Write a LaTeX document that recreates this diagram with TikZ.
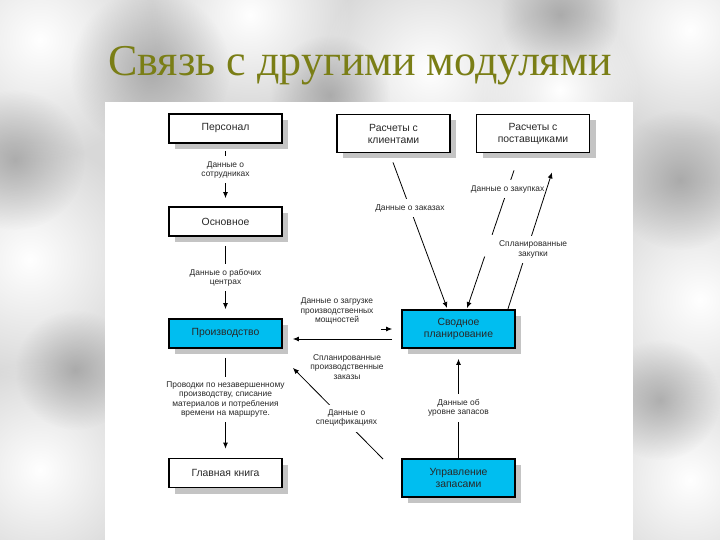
\documentclass[tikz,border=0pt]{standalone}
\usepackage{fontspec}
\setmainfont{Liberation Serif}
\newfontfamily\arialf{Liberation Sans}
\usetikzlibrary{arrows.meta,calc,shadows,fadings}
\definecolor{boxblue}{RGB}{0,190,240}
\definecolor{titleol}{RGB}{122,126,22}
\definecolor{bgray}{RGB}{216,216,216}
\definecolor{txtg}{RGB}{40,40,40}
\tikzfading[name=softblob, inner color=transparent!0, outer color=transparent!100]
\begin{document}
\begin{tikzpicture}[x=1pt,y=-1pt,
  box/.style={draw=black, line width=1.8pt, fill=white, minimum width=113pt, minimum height=29pt,
    inner sep=0pt, font=\arialf\fontsize{10.4}{12}\selectfont, text=txtg, align=center,
    drop shadow={shadow xshift=6pt, shadow yshift=-6pt, fill=black!23, opacity=1}},
  tallbox/.style={box, minimum height=38pt},
  bluebox/.style={fill=boxblue},
  lab/.style={fill=white, inner xsep=2pt, inner ysep=5pt,
    font=\arialf\fontsize{8.4}{9.4}\selectfont, text=txtg, align=center},
  arr/.style={-{Latex[length=6pt,width=5pt]}, line width=0.8pt},
  con/.style={line width=0.8pt}]
\useasboundingbox (0,0) rectangle (720,540);
% marble background
\fill[bgray] (0,0) rectangle (720,540);
\foreach \x/\y/\r in {40/40/120, 250/15/100, 430/70/110, 690/30/110, 30/260/120, 700/300/120, 40/470/110, 690/480/110, 560/90/80}
  \fill[white, path fading=softblob] (\x,\y) circle (\r);
\foreach \x/\y/\r in {150/70/80, 560/15/60, 15/160/70, 680/180/70, 75/370/60, 660/400/60, 330/95/60}
  \fill[black!45, opacity=0.6, path fading=softblob] (\x,\y) circle (\r);
% panel
\fill[white] (105,102) rectangle (633,540);
% title
\node[font=\fontsize{44}{50}\selectfont, text=titleol, anchor=base] (title) at (360,76) {Связь с другими модулями};
% boxes
\node[box] (pers) at (225.5,128.5) {Персонал};
\node[box] (osn) at (225.5,221.5) {Основное};
\node[box,bluebox] (proizv) at (225.5,333.5) {Производство};
\node[box] (glav) at (225.5,473) {Главная книга};
\node[tallbox] (klient) at (393.5,133.5) {Расчеты с\\клиентами};
\node[tallbox] (posta) at (533,133.5) {Расчеты с\\поставщиками};
\node[tallbox,bluebox] (svod) at (458.5,329) {Сводное\\планирование};
\node[tallbox,bluebox] (upr) at (458.5,478) {Управление\\запасами};
% left column
\draw[arr] ($(pers.south)+(0,7)$) -- node[lab,pos=0.4] (l1) {Данные о\\сотрудниках} ($(osn.north)+(0,-8)$);
\draw[arr] ($(osn.south)+(0,9)$) -- node[lab,pos=0.5] (l2) {Данные о рабочих\\центрах} ($(proizv.north)+(0,-9)$);
\draw[arr] ($(proizv.south)+(0,9)$) -- node[lab,pos=0.46] (l3) {Проводки по незавершенному\\производству, списание\\материалов и потребления\\времени на маршруте.} ($(glav.north)+(0,-9)$);
% inventory to planning
\draw[arr] (upr.north) -- node[lab,pos=0.505] (l4) {Данные об\\уровне запасов} ($(svod.south)+(0,10)$);
% clients to planning
\draw[arr] ($(klient.south)+(-0.5,9)$) -- node[lab,pos=0.313] (l5) {Данные о заказах} ($(svod.north west)+(46,-1)$);
% suppliers to planning
\coordinate (zS) at ($(posta.south)+(-19,17)$);
\coordinate (zE) at ($(svod.north west)+(66,-1)$);
\draw[con] (zS) -- node[lab,pos=0.29] (l6) {Данные о закупках} ($(zS)!0.468!(zE)$);
\draw[arr] ($(zS)!0.626!(zE)$) -- (zE);
% planning to suppliers
\draw[arr] ($(svod.north east)+(-8,0)$) -- node[lab,pos=0.435,xshift=6pt] (l7) {Спланированные\\закупки} ($(posta.south)+(19,19)$);
% production <-> planning
\draw[arr] ($(svod.west)+(-20,0)$) -- ($(svod.west)+(-9,0)$);
\draw[arr] ($(svod.west)+(-9,10)$) -- ($(svod.west -| proizv.east)+(10,10)$);
\node[lab,inner ysep=2pt] (l8) at (337,311) {Данные о загрузке\\производственных\\мощностей};
\node[lab,inner ysep=2pt] (l9) at (347,367) {Спланированные\\производственные\\заказы};
% inventory to production
\draw[arr] ($(upr.north west)+(-18,1)$) -- node[lab,pos=0.45,xshift=4pt] (l10) {Данные о\\спецификациях} ($(proizv.south east)+(10,19)$);
\end{tikzpicture}
\end{document}
